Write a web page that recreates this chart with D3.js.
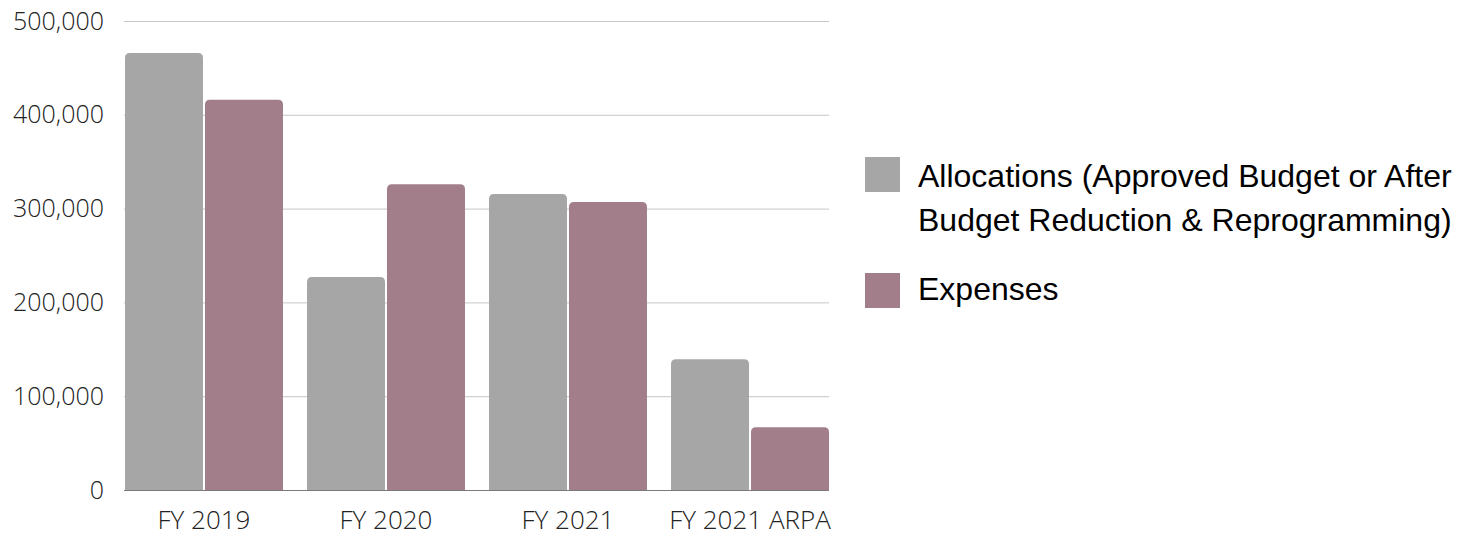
<!DOCTYPE html>
<html>
<head>
<meta charset="utf-8">
<script src="https://cdn.jsdelivr.net/npm/d3@7"></script>
<style>
  body { margin: 0; background: #fff; }
  .tick text { font-family: "Open Sans", sans-serif; font-weight: 300; }
</style>
</head>
<body>
<script>
// data
var categories = ["FY 2019", "FY 2020", "FY 2021", "FY 2021 ARPA"];
var allocations = [466000, 227000, 315500, 139500];
var expenses = [416000, 326000, 307000, 67000];
var seriesNames = ["Allocations (Approved Budget or After Budget Reduction & Reprogramming)", "Expenses"];
var yTicks = [0, 100000, 200000, 300000, 400000, 500000];

var colors = ["#a6a6a6", "#a27e8a"];

var width = 1470, height = 536;
var margin = {top: 21, left: 124, right: 641, bottom: 46};

var svg = d3.select("body").append("svg")
    .attr("width", width)
    .attr("height", height);

var x = d3.scaleBand()
    .domain(categories)
    .range([margin.left + 1, width - margin.right])
    .paddingInner(0.132)
    .paddingOuter(0);

var x1 = d3.scaleBand()
    .domain([0, 1])
    .range([0, x.bandwidth()])
    .paddingInner(0.025);

var y = d3.scaleLinear()
    .domain([0, 500000])
    .range([height - margin.bottom, margin.top]);

// gridlines
svg.append("g")
    .selectAll("line")
    .data(yTicks.slice(1))
    .enter()
    .append("line")
    .attr("x1", margin.left)
    .attr("x2", width - margin.right)
    .attr("y1", function (d) { return y(d) + 0.5; })
    .attr("y2", function (d) { return y(d) + 0.5; })
    .style("stroke", "#c6c6c6")
    .style("stroke-width", 1);

// bar with rounded top corners
function barPath(x0, w, yTop, yBase, r) {
    r = Math.min(r, w / 2, (yBase - yTop));
    return "M" + x0 + "," + yBase +
        "V" + (yTop + r) +
        "Q" + x0 + "," + yTop + " " + (x0 + r) + "," + yTop +
        "H" + (x0 + w - r) +
        "Q" + (x0 + w) + "," + yTop + " " + (x0 + w) + "," + (yTop + r) +
        "V" + yBase + "Z";
}

var series = [allocations, expenses];
series.forEach(function (vals, si) {
    svg.append("g")
        .selectAll("path")
        .data(vals)
        .enter()
        .append("path")
        .attr("d", function (d, i) {
            return barPath(x(categories[i]) + x1(si), x1.bandwidth(), y(d), y(0), 5);
        })
        .style("fill", colors[si]);
});

// x axis
var xAxis = svg.append("g")
    .attr("transform", "translate(0," + (y(0) + 0.5) + ")")
    .call(d3.axisBottom(x).tickSize(0).tickPadding(20));
xAxis.select(".domain")
    .attr("d", "M" + margin.left + ",0H" + (width - margin.right))
    .style("stroke", "#7a7a7a");
xAxis.selectAll("text")
    .style("font-size", "26px")
    .style("fill", "#222");

// y axis
var yAxis = svg.append("g")
    .attr("transform", "translate(" + 104 + ",0)")
    .call(d3.axisLeft(y).tickValues(yTicks).tickSize(0).tickPadding(0)
        .tickFormat(d3.format(",")));
yAxis.select(".domain").remove();
yAxis.selectAll("text")
    .style("font-size", "25px")
    .style("fill", "#222");

// legend
var legendLines = [
    ["Allocations (Approved Budget or After", "Budget Reduction & Reprogramming)"],
    ["Expenses"]
];
var legendTop = [157, 273];
var legendBase = [187, 300];

legendLines.forEach(function (lines, i) {
    svg.append("rect")
        .attr("x", 865)
        .attr("y", legendTop[i])
        .attr("width", 35)
        .attr("height", 35)
        .style("fill", colors[i]);
    svg.append("text")
        .attr("x", 918)
        .attr("y", legendBase[i])
        .style("font-family", "'Liberation Sans', Arial, sans-serif")
        .style("font-size", "32px")
        .style("fill", "#000")
        .selectAll("tspan")
        .data(lines)
        .enter()
        .append("tspan")
        .attr("x", 918)
        .attr("dy", function (d, j) { return j === 0 ? 0 : 44; })
        .text(function (d) { return d; });
});
</script>
</body>
</html>
